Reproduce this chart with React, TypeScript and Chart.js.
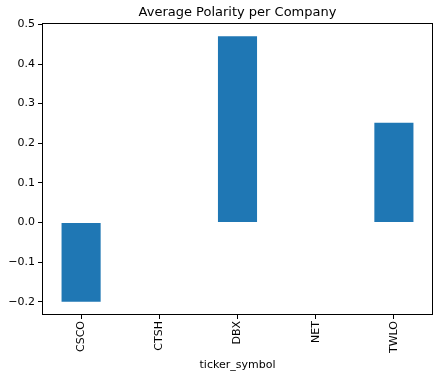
import React, { useEffect, useRef } from "react";
import { Chart, registerables } from "chart.js";

Chart.register(...registerables);

const categories = ["CSCO", "CTSH", "DBX", "NET", "TWLO"];
const polarity = [-0.2, 0.0, 0.47, 0.0, 0.252];
const yTicks = [-0.2, -0.1, 0.0, 0.1, 0.2, 0.3, 0.4, 0.5];
const titleText = "Average Polarity per Company";
const xTitle = "ticker_symbol";

const FONT = "'DejaVu Sans', sans-serif";

export default function App() {
  const ref = useRef<HTMLCanvasElement | null>(null);
  useEffect(() => {
    const canvas = ref.current;
    if (!canvas) return;
    const framePlugin = {
      id: "frame",
      afterDraw(chart: any) {
        const { ctx, chartArea } = chart;
        ctx.save();
        ctx.strokeStyle = "#000";
        ctx.lineWidth = 1;
        ctx.strokeRect(
          Math.round(chartArea.left) + 0.5,
          Math.round(chartArea.top) + 0.5,
          Math.round(chartArea.right - chartArea.left) - 1,
          Math.round(chartArea.bottom - chartArea.top) - 1
        );
        ctx.fillStyle = "#000";
        ctx.font = `13px ${FONT}`;
        ctx.textAlign = "center";
        ctx.textBaseline = "middle";
        ctx.fillText(titleText, (chartArea.left + chartArea.right) / 2, 13);
        ctx.restore();
      },
    };
    const chart = new Chart(canvas, {
      type: "bar",
      data: {
        labels: categories,
        datasets: [
          {
            data: polarity,
            backgroundColor: "#1f77b4",
            borderWidth: 0,
            barPercentage: 0.5,
            categoryPercentage: 1,
          },
        ],
      },
      options: {
        animation: false,
        responsive: false,
        devicePixelRatio: 1,
        layout: { padding: { top: 23, right: 8, left: 0, bottom: 0 } },
        plugins: {
          legend: { display: false },
          title: { display: false },
          tooltip: { enabled: false },
        },
        scales: {
          x: {
            type: "category",
            offset: true,
            grid: {
              display: true,
              offset: false,
              drawOnChartArea: false,
              drawTicks: true,
              tickLength: 4,
              color: "#000",
            },
            border: { display: false },
            ticks: {
              color: "#000",
              font: { family: FONT, size: 11 },
              minRotation: 90,
              maxRotation: 90,
              padding: 2,
              autoSkip: false,
            },
            title: {
              display: true,
              text: xTitle,
              color: "#000",
              font: { family: FONT, size: 11 },
              padding: { top: 2, bottom: 6 },
            },
            afterFit(scale: any) {
              scale.height = 63;
            },
          },
          y: {
            min: -0.2335,
            max: 0.5035,
            grid: {
              display: true,
              drawOnChartArea: false,
              drawTicks: true,
              tickLength: 4,
              color: "#000",
            },
            border: { display: false },
            ticks: {
              color: "#000",
              font: { family: FONT, size: 11 },
              padding: 3,
              callback: (v: any) => Number(v).toFixed(1).replace("-", "\u2212"),
            },
            afterBuildTicks(scale: any) {
              scale.ticks = yTicks.map((v) => ({ value: v }));
            },
            afterFit(scale: any) {
              scale.width = 42;
            },
          },
        },
      },
      plugins: [framePlugin],
    });
    return () => chart.destroy();
  }, []);
  return (
    <div style={{ position: "absolute", left: 0, top: 0, width: 441, height: 378, background: "#fff" }}>
      <canvas ref={ref} width={441} height={378} />
    </div>
  );
}
